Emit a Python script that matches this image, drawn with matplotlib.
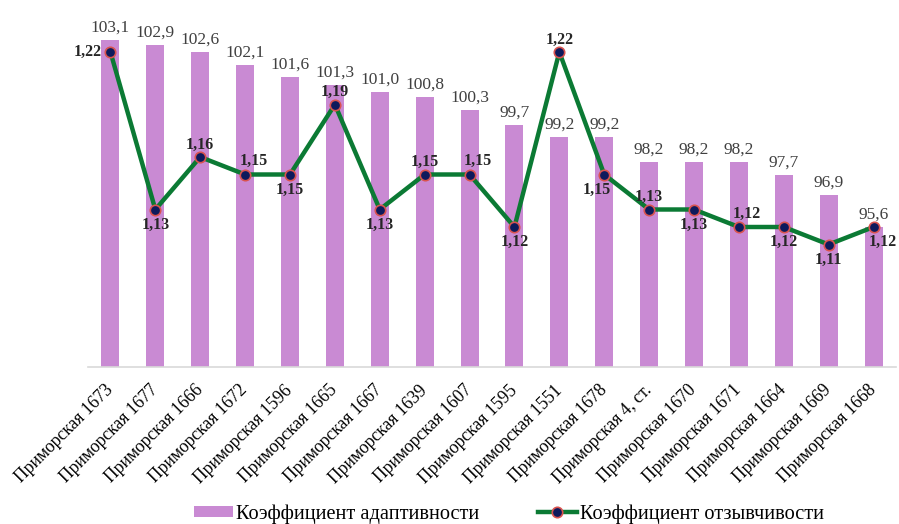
import matplotlib
matplotlib.use("Agg")
import matplotlib.pyplot as plt
from matplotlib.lines import Line2D
from matplotlib.patches import Patch

plt.rcParams['font.family'] = ['Liberation Serif', 'DejaVu Serif']

varieties = [
    "Приморская 1673", "Приморская 1677", "Приморская 1666", "Приморская 1672",
    "Приморская 1596", "Приморская 1665", "Приморская 1667", "Приморская 1639",
    "Приморская 1607", "Приморская 1595", "Приморская 1551", "Приморская 1678",
    "Приморская 4, ст.", "Приморская 1670", "Приморская 1671", "Приморская 1664",
    "Приморская 1669", "Приморская 1668",
]
adaptivity = [103.1, 102.9, 102.6, 102.1, 101.6, 101.3, 101.0, 100.8, 100.3,
              99.7, 99.2, 99.2, 98.2, 98.2, 98.2, 97.7, 96.9, 95.6]
responsiveness = [1.22, 1.13, 1.16, 1.15, 1.15, 1.19, 1.13, 1.15, 1.15,
                  1.12, 1.22, 1.15, 1.13, 1.13, 1.12, 1.12, 1.11, 1.12]
# where each responsiveness label sits relative to its marker
resp_label_side = ["left", "below", "above", "aboveright", "below", "above", "below",
                   "above", "aboveright", "below", "above", "belowleft", "above",
                   "below", "aboveright", "below", "below", "belowright"]

label_adapt = "Коэффициент адаптивности"
label_resp = "Коэффициент отзывчивости"

bar_color = "#C98AD3"
line_color = "#0B7A34"
marker_face = "#0E1A5C"
marker_edge = "#D9534F"

fig = plt.figure(figsize=(8.99, 5.24), dpi=100)
ax = fig.add_axes([88 / 899, 1 - 367 / 524, (896 - 88) / 899, (367 - 17) / 524])
x = list(range(len(varieties)))

ax.bar(x, adaptivity, width=0.4, color=bar_color, zorder=2)
ax.set_ylim(90, 104)
ax.set_xlim(-0.5, len(varieties) - 0.5)
for xi, v in zip(x, adaptivity):
    ax.annotate(f"{v:.1f}".replace(".", ","), (xi, v), xytext=(0, 3),
                textcoords="offset points", ha="center", va="bottom",
                fontsize=12.5, color="#404040")

for s in ["top", "right", "left"]:
    ax.spines[s].set_visible(False)
ax.spines["bottom"].set_color("#D9D9D9")
ax.spines["bottom"].set_linewidth(1.2)
ax.set_yticks([])
ax.set_xticks(x)
ax.set_xticklabels(varieties, rotation=45, ha="right", va="center",
                   rotation_mode="anchor", fontsize=12.7, color="black")
ax.tick_params(axis="x", length=0, pad=15)

ax2 = ax.twinx()
ax2.set_ylim(1.04, 1.24)
ax2.plot(x, responsiveness, color=line_color, linewidth=3.2, marker="o",
         markersize=7.5, markerfacecolor=marker_face, markeredgecolor=marker_edge,
         markeredgewidth=1.2, zorder=3)
ax2.set_yticks([])
for s in ["top", "right", "left", "bottom"]:
    ax2.spines[s].set_visible(False)

offsets = {
    "left": ((-6, 0), "right", "center"),
    "above": ((0, 3), "center", "bottom"),
    "aboveright": ((6, 4), "center", "bottom"),
    "below": ((0, -5), "center", "top"),
    "belowleft": ((-5, -5), "center", "top"),
    "belowright": ((7, -5), "center", "top"),
}
for xi, v, side in zip(x, responsiveness, resp_label_side):
    off, ha, va = offsets[side]
    ax2.annotate(f"{v:.2f}".replace(".", ","), (xi, v), xytext=off,
                 textcoords="offset points", ha=ha, va=va, fontsize=11.5,
                 fontweight="bold", color="#262626", zorder=4)

handles = [
    Patch(facecolor=bar_color, edgecolor="none"),
    Line2D([0], [0], color=line_color, linewidth=3.2, marker="o", markersize=7.5,
           markerfacecolor=marker_face, markeredgecolor=marker_edge,
           markeredgewidth=1.2),
]
fig.legend(handles, [label_adapt, label_resp], loc="center", ncol=2,
           bbox_to_anchor=(509 / 899, 1 - 514 / 524), frameon=False,
           fontsize=14.7, handlelength=1.9, handleheight=0.5, handletextpad=0.15,
           columnspacing=2.85, borderpad=0, borderaxespad=0)

fig.savefig("out.png", dpi=100)
